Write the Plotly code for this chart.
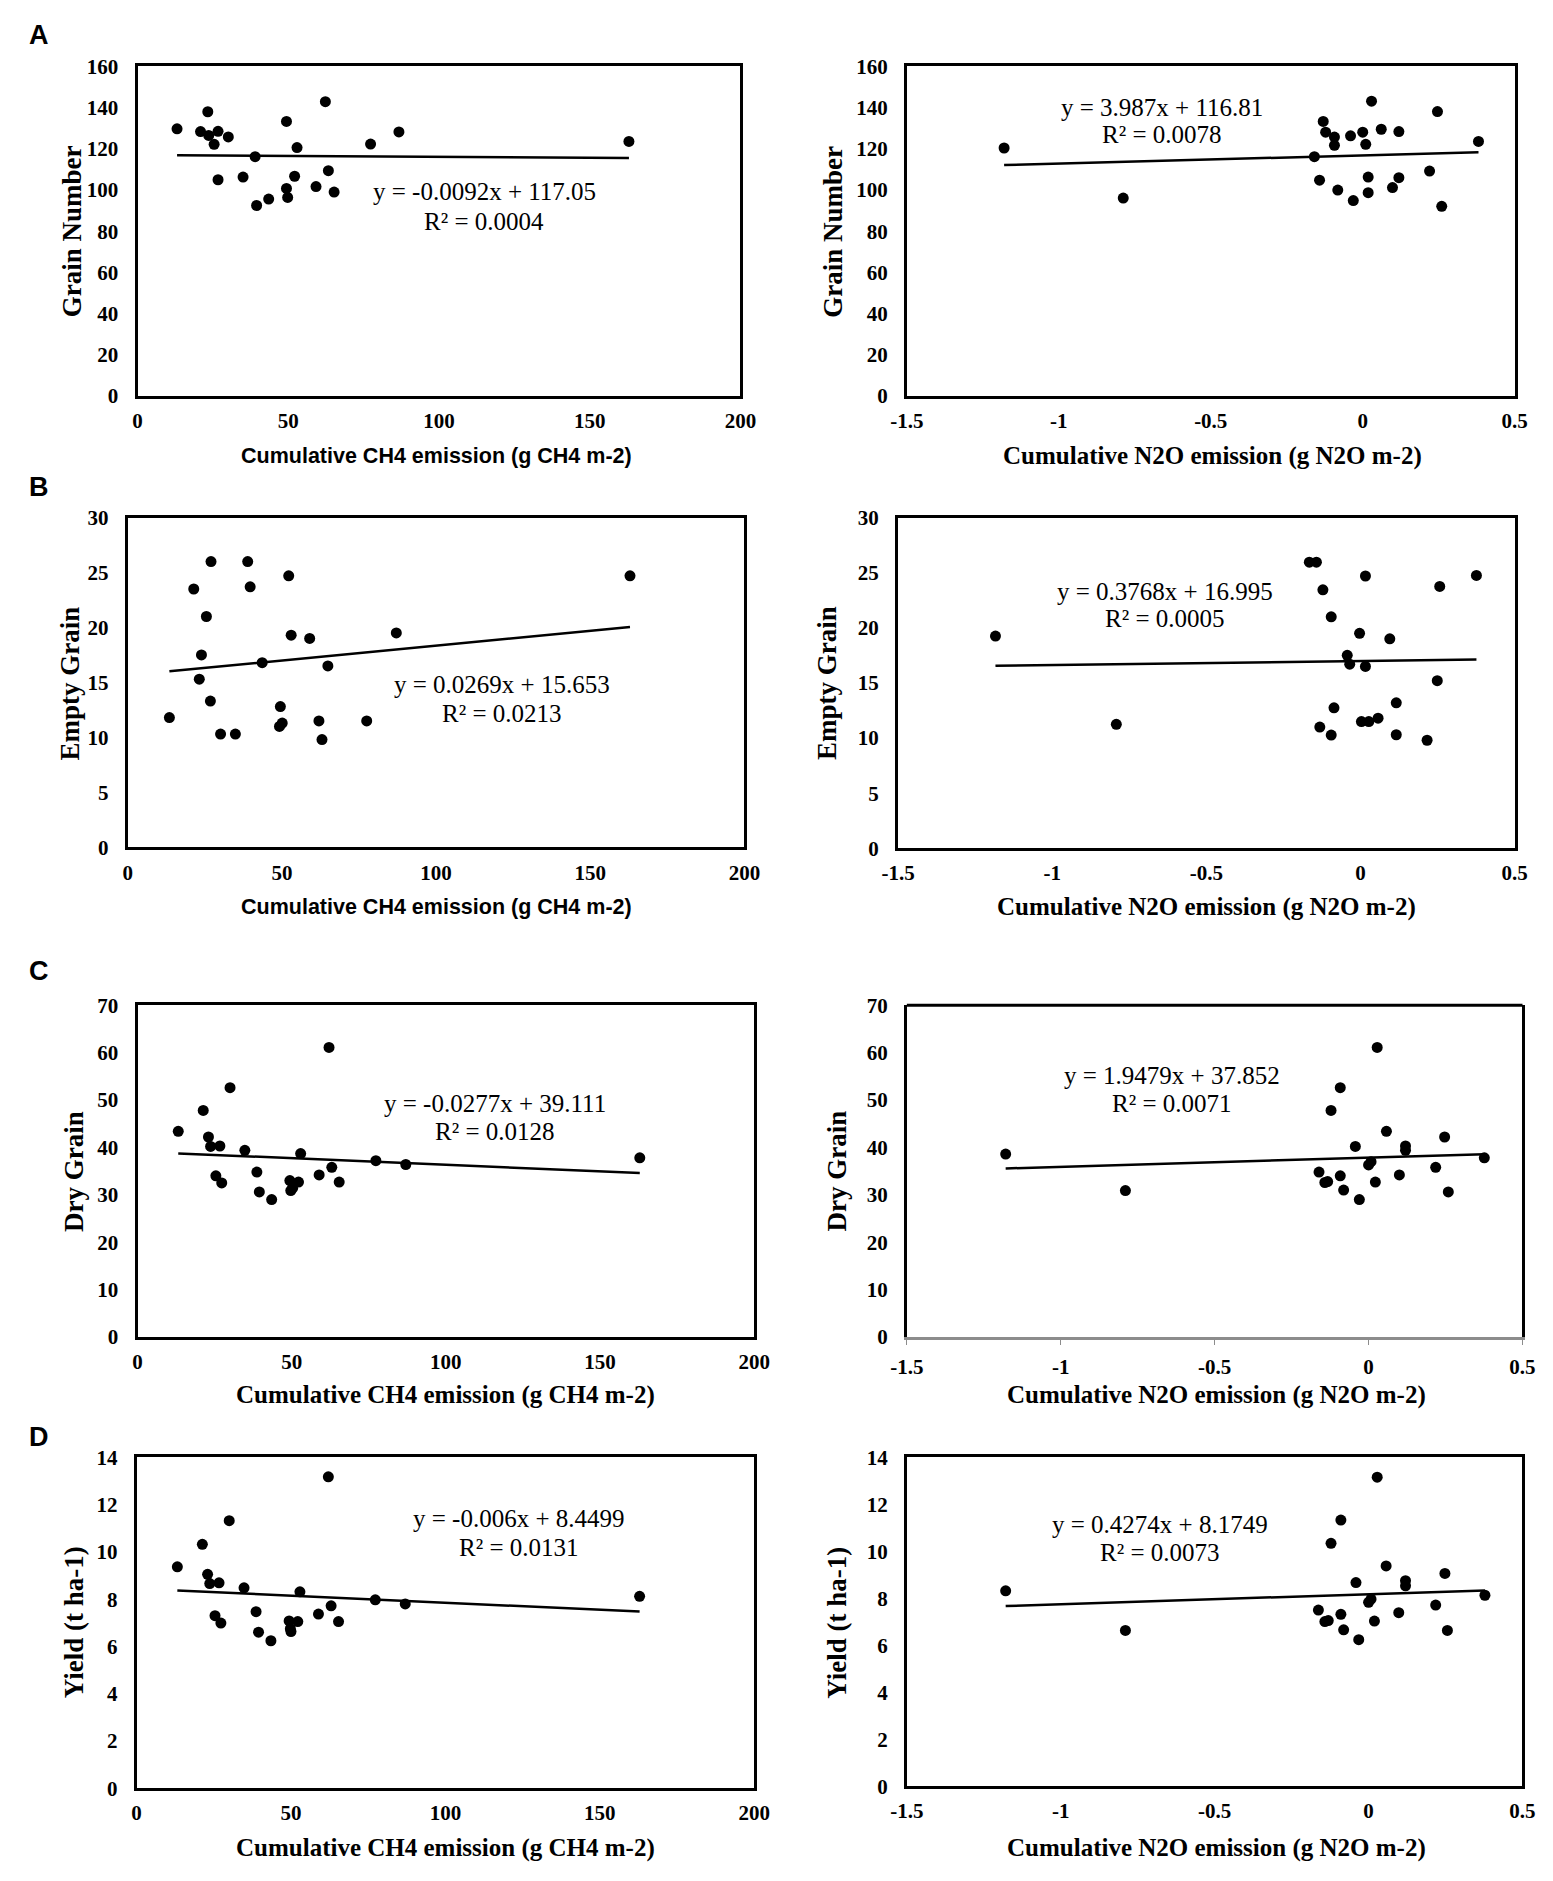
"""Grain traits vs cumulative CH4 / N2O emission: 4x2 scatter panels with linear fits."""
import plotly.graph_objects as go

W, H = 1553, 1881

# ---- data ----
ch4_grain_x = [13.1, 20.9, 23.3, 23.6, 25.4, 26.7, 26.7, 30.1, 35.0, 39.0, 39.5, 43.5,
               49.4, 49.4, 49.8, 52.1, 52.9, 59.2, 62.3, 63.3, 65.2, 77.3, 86.7, 163.0]
ch4_grain_y = [129.7, 128.4, 138.0, 126.5, 122.2, 128.5, 105.0, 125.8, 106.3, 116.2, 92.5, 95.6,
               133.3, 100.8, 96.4, 106.7, 120.6, 101.7, 142.9, 109.4, 99.0, 122.3, 128.2, 123.6]

n2o_grain_x = [-1.18, -0.788, -0.159, -0.142, -0.130, -0.122, -0.093, -0.093, -0.082, -0.040,
               -0.031, 0.0, 0.010, 0.018, 0.018, 0.029, 0.061, 0.098, 0.119, 0.119, 0.220,
               0.246, 0.260, 0.381]
n2o_grain_y = [120.4, 96.1, 116.2, 104.8, 133.3, 128.1, 125.7, 121.7, 100.0, 126.3, 94.9,
               128.1, 122.2, 106.3, 98.7, 143.1, 129.5, 101.2, 128.4, 106.0, 109.2, 138.1,
               92.1, 123.6]

ch4_empty_x = [13.5, 21.4, 23.2, 23.9, 25.5, 26.8, 27.0, 30.1, 34.9, 38.9, 39.7, 43.6,
               49.2, 49.5, 50.1, 52.2, 53.0, 59.0, 62.0, 63.0, 64.9, 77.5, 87.1, 162.9]
ch4_empty_y = [11.8, 23.5, 15.3, 17.5, 21.0, 13.3, 26.0, 10.3, 10.3, 26.0, 23.7, 16.8,
               11.0, 12.8, 11.3, 24.7, 19.3, 19.0, 11.5, 9.8, 16.5, 11.5, 19.5, 24.7]

n2o_empty_x = [-1.184, -0.792, -0.166, -0.143, -0.132, -0.122, -0.095, -0.095, -0.086,
               -0.043, -0.035, -0.003, 0.003, 0.016, 0.016, 0.027, 0.057, 0.095, 0.116,
               0.116, 0.216, 0.249, 0.257, 0.376]
n2o_empty_y = [19.25, 11.25, 25.95, 25.95, 11.0, 23.45, 21.0, 10.27, 12.74, 17.5, 16.7,
               19.5, 11.5, 24.7, 16.5, 11.5, 11.8, 19.0, 13.2, 10.3, 9.8, 15.2, 23.75, 24.75]

ch4_dry_x = [13.2, 21.3, 23.0, 23.7, 25.4, 26.7, 27.3, 30.0, 34.8, 38.7, 39.5, 43.5,
             49.4, 49.7, 50.3, 52.2, 52.9, 58.9, 62.1, 63.0, 65.4, 77.3, 87.0, 162.9]
ch4_dry_y = [43.4, 47.8, 42.2, 40.2, 34.0, 40.3, 32.5, 52.6, 39.4, 34.8, 30.6, 29.0,
             33.0, 30.9, 31.4, 32.7, 38.7, 34.2, 61.1, 35.8, 32.7, 37.2, 36.4, 37.8]

n2o_dry_x = [-1.179, -0.790, -0.161, -0.142, -0.133, -0.122, -0.092, -0.092, -0.081,
             -0.043, -0.030, 0.0, 0.008, 0.022, 0.028, 0.058, 0.100, 0.120, 0.120,
             0.218, 0.247, 0.259, 0.376]
n2o_dry_y = [38.6, 30.9, 34.8, 32.6, 32.8, 47.8, 52.6, 34.0, 31.0, 40.2, 29.0, 36.3,
             37.0, 32.7, 61.1, 43.4, 34.2, 40.3, 39.4, 35.8, 42.2, 30.6, 37.8]

ch4_yield_x = [13.2, 21.3, 23.0, 23.7, 25.4, 26.7, 27.3, 30.0, 34.8, 38.7, 39.5, 43.5,
               49.4, 50.0, 49.8, 52.2, 52.9, 58.9, 62.1, 63.0, 65.4, 77.3, 87.0, 162.9]
ch4_yield_y = [9.37, 10.32, 9.05, 8.66, 7.30, 8.69, 6.99, 11.32, 8.48, 7.47, 6.60, 6.24,
               7.08, 6.63, 6.75, 7.05, 8.31, 7.37, 13.18, 7.72, 7.05, 7.97, 7.80, 8.12]

n2o_yield_x = [-1.179, -0.790, -0.163, -0.142, -0.131, -0.122, -0.090, -0.090, -0.081,
               -0.041, -0.032, 0.0, 0.008, 0.019, 0.028, 0.057, 0.098, 0.120, 0.120,
               0.218, 0.248, 0.256, 0.378]
n2o_yield_y = [8.32, 6.63, 7.50, 7.01, 7.05, 10.34, 11.33, 7.32, 6.66, 8.67, 6.24, 7.83,
               7.97, 7.03, 13.16, 9.38, 7.39, 8.75, 8.53, 7.71, 9.06, 6.63, 8.13]

# linear fits as printed on the chart (A-left, A-right, B-left, ... D-right)
fit_slope = [-0.0092, 3.987, 0.0269, 0.3768, -0.0277, 1.9479, -0.006, 0.4274]
fit_intercept = [117.05, 116.81, 15.653, 16.995, 39.111, 37.852, 8.4499, 8.1749]
fit_r2 = ["0.0004", "0.0078", "0.0213", "0.0005", "0.0128", "0.0071", "0.0131", "0.0073"]
fit_eq = ["y = -0.0092x + 117.05", "y = 3.987x + 116.81", "y = 0.0269x + 15.653",
          "y = 0.3768x + 16.995", "y = -0.0277x + 39.111", "y = 1.9479x + 37.852",
          "y = -0.006x + 8.4499", "y = 0.4274x + 8.1749"]

y_titles = ["Grain Number", "Empty Grain", "Dry Grain", "Yield (t ha-1)"]
y_ranges = [(0, 160, 20), (0, 30, 5), (0, 70, 10), (0, 14, 2)]
ch4_title = "Cumulative CH4 emission (g CH4 m-2)"
n2o_title = "Cumulative N2O emission (g N2O m-2)"
n2o_ticks = [-1.5, -1, -0.5, 0, 0.5]
n2o_ticktext = ["-1.5", "-1", "-0.5", "0", "0.5"]
panel_letters = ["A", "B", "C", "D"]

series = [
    (ch4_grain_x, ch4_grain_y), (n2o_grain_x, n2o_grain_y),
    (ch4_empty_x, ch4_empty_y), (n2o_empty_x, n2o_empty_y),
    (ch4_dry_x, ch4_dry_y), (n2o_dry_x, n2o_dry_y),
    (ch4_yield_x, ch4_yield_y), (n2o_yield_x, n2o_yield_y),
]

# ---- layout (pixel positions in the 1553x1881 page) ----
# frame: x0, x1, y_top, y_bottom
frames = [
    (115, 731, 47, 381), (901, 1522, 47, 381),
    (105, 735, 504, 838), (892, 1522, 504, 839),
    (115, 745, 998, 1334), (901, 1530, 998, 1334),
    (114, 745, 1456, 1791), (901, 1530, 1456, 1789),
]
ytitle_x = [48, 826, 46, 820, 50, 830, 50, 830]
ytitle_y = [214, 214, 672, 672, 1166, 1166, 1623, 1623]
xtitle_x = [420, 1213, 420, 1207, 430, 1217, 430, 1217]
xtitle_y = [442, 442, 898, 898, 1393, 1393, 1852, 1852]
letter_y = [15, 473, 963, 1435]
# equation (centre) positions in data units: x, y of eq line, y of R² line
eq_pos = [(115, 99.3, 84.6), (-0.66, 140, 127), (121.5, 14.8, 12.2), (-0.634, 23.3, 20.8),
          (116, 49.2, 43.3), (-0.639, 55.1, 49.2), (124, 11.4, 10.17), (-0.678, 11.15, 9.93)]

SERIF = "Liberation Serif, Times New Roman, serif"
SANS = "Liberation Sans, Arial, sans-serif"


def px(x):
    return x / W


def py(y):
    return 1 - y / H


fig = go.Figure()
layout = dict(
    width=W, height=H, margin=dict(l=0, r=0, t=0, b=0),
    paper_bgcolor="white", plot_bgcolor="white", showlegend=False,
)
annotations = []
shapes = []

for i, (xs, ys) in enumerate(series):
    n = i + 1
    xa = "x" if n == 1 else f"x{n}"
    ya = "y" if n == 1 else f"y{n}"
    row = i // 2
    is_ch4 = i % 2 == 0
    x0, x1, yt, yb = frames[i]

    fig.add_trace(go.Scatter(
        x=xs, y=ys, mode="markers", xaxis=xa, yaxis=ya,
        marker=dict(color="black", size=11),
    ))
    lx = [min(xs), max(xs)]
    ly = [fit_slope[i] * v + fit_intercept[i] for v in lx]
    fig.add_trace(go.Scatter(
        x=lx, y=ly, mode="lines", xaxis=xa, yaxis=ya,
        line=dict(color="black", width=2.5),
    ))

    lo, hi, step = y_ranges[row]
    grey_bottom = (i == 5)
    xaxis = dict(
        domain=[px(x0), px(x1)], anchor=ya,
        showgrid=False, zeroline=False, showline=True,
        linecolor="#8c8c8c" if grey_bottom else "black",
        linewidth=3, mirror=False if grey_bottom else True,
        ticks="outside" if grey_bottom else "", ticklen=5, tickcolor="#8c8c8c",
        ticklabelstandoff=4,
        tickfont=dict(family=SERIF, size=21, color="black", weight="bold"),
    )
    if is_ch4:
        xaxis.update(range=[0, 200], tickvals=[0, 50, 100, 150, 200])
    else:
        xaxis.update(range=[-1.5, 0.5], tickvals=n2o_ticks, ticktext=n2o_ticktext)
    yaxis = dict(
        domain=[py(yb), py(yt)], anchor=xa,
        range=[lo, hi], dtick=step, tick0=0,
        showgrid=False, zeroline=False, showline=True, linecolor="black",
        linewidth=3, mirror=True, ticks="", ticklabelstandoff=12,
        tickfont=dict(family=SERIF, size=21, color="black", weight="bold"),
    )
    layout["xaxis" if n == 1 else f"xaxis{n}"] = xaxis
    layout["yaxis" if n == 1 else f"yaxis{n}"] = yaxis

    if grey_bottom:
        shapes.append(dict(type="line", xref="paper", yref="paper",
                           x0=px(x0), x1=px(x1), y0=py(yt), y1=py(yt),
                           line=dict(color="black", width=3)))

    # axis titles
    annotations.append(dict(
        text=f"<b>{y_titles[row]}</b>", textangle=-90, xref="paper", yref="paper",
        x=px(ytitle_x[i]), y=py(ytitle_y[i]), xanchor="center", yanchor="middle",
        showarrow=False, font=dict(family=SERIF, size=27, color="black"),
    ))
    sans_title = is_ch4 and row < 2
    annotations.append(dict(
        text=f"<b>{ch4_title if is_ch4 else n2o_title}</b>", xref="paper", yref="paper",
        x=px(xtitle_x[i]), y=py(xtitle_y[i]), xanchor="center", yanchor="middle",
        showarrow=False,
        font=dict(family=SANS if sans_title else SERIF, size=21.5 if sans_title else 25,
                  color="black"),
    ))

    # fit equation
    ex, ey, ry = eq_pos[i]
    annotations.append(dict(
        text=fit_eq[i], xref=xa, yref=ya, x=ex, y=ey, showarrow=False,
        xanchor="center", yanchor="middle", font=dict(family=SERIF, size=25, color="black"),
    ))
    annotations.append(dict(
        text=f"R² = {fit_r2[i]}", xref=xa, yref=ya, x=ex, y=ry, showarrow=False,
        xanchor="center", yanchor="middle", font=dict(family=SERIF, size=25, color="black"),
    ))

for k, letter in enumerate(panel_letters):
    annotations.append(dict(
        text=f"<b>{letter}</b>", xref="paper", yref="paper",
        x=px(2), y=py(letter_y[k]), xanchor="left", yanchor="middle",
        showarrow=False, font=dict(family=SANS, size=27, color="black"),
    ))

layout["annotations"] = annotations
layout["shapes"] = shapes
fig.update_layout(**layout)
fig.write_html("out.html")
